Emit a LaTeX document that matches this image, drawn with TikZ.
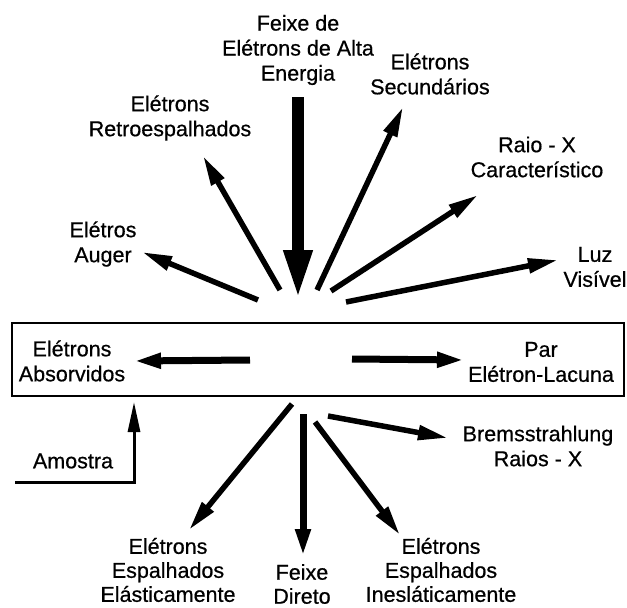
\documentclass[tikz,border=0pt]{standalone}
\usepackage{fontspec}
\setmainfont{Liberation Sans}[FakeBold=0.6]
\usetikzlibrary{arrows.meta}
\begin{document}
\begin{tikzpicture}[x=1pt,y=-1pt,
  lbl/.style={align=center,font=\fontsize{21.5}{25}\selectfont,inner sep=0pt},
  lblb/.style={align=center,font=\fontsize{21.5}{24}\selectfont,inner sep=0pt},
  ray/.style={line width=5.5pt,-{Triangle[length=30pt,width=14pt]}},
  flat/.style={line width=7pt,-{Triangle[length=28pt,width=14pt]}},
  beam/.style={line width=12pt,-{Triangle[length=50pt,width=26pt]}},
  thin/.style={line width=3pt,-{Triangle[length=30pt,width=12pt]}}]
\useasboundingbox (0,0) rectangle (627,608);
% labels
\node[lbl] (lbeam) at (298,50) {Feixe de\\Elétrons de Alta\\Energia};
\node[lbl] (lretro) at (170,118) {Elétrons\\Retroespalhados};
\node[lbl] (lsec) at (430,74) {Elétrons\\Secundários};
\node[lbl] (lrx) at (537,157) {Raio - X\\Característico};
\node[lbl] (laug) at (103,244) {Elétros\\Auger};
\node[lbl] (lluz) at (595,267) {Luz\\Visível};
\node[lbl] (labs) at (72,361) {Elétrons\\Absorvidos};
\node[lbl] (lpar) at (541,362) {Par\\Elétron-Lacuna};
\node[lbl] (lamo) at (73,461) {Amostra};
\node[lbl] (lbre) at (538,446) {Bremsstrahlung\\Raios - X};
\node[lblb] (lela) at (168,570) {Elétrons\\Espalhados\\Elásticamente};
\node[lblb] (ldir) at (302,584) {Feixe\\Direto};
\node[lblb] (line) at (441,570) {Elétrons\\Espalhados\\Inesláticamente};
% sample box
\node[draw,line width=2.2pt,minimum width=612pt,minimum height=73pt,inner sep=0pt] (box) at (318,359.5) {};
% coordinates
\coordinate (b0) at (298,97);   \coordinate (b1) at (298,300);
\coordinate (r0) at (280,290);  \coordinate (r1) at (203,156);
\coordinate (s0) at (317,290);  \coordinate (s1) at (403,107);
\coordinate (x0) at (331,291);  \coordinate (x1) at (478,195);
\coordinate (v0) at (346,302);  \coordinate (v1) at (558,260);
\coordinate (a0) at (258,300);  \coordinate (a1) at (142,252);
\coordinate (ab0) at (250,360); \coordinate (ab1) at (133,361);
\coordinate (p0) at (352,359);  \coordinate (p1) at (465,360);
\coordinate (m0) at (15,482);   \coordinate (m1) at (134,482); \coordinate (m2) at (134,402);
\coordinate (e0) at (292,404);  \coordinate (e1) at (189,530);
\coordinate (d0) at (303,414);  \coordinate (d1) at (303,557);
\coordinate (i0) at (315,422);  \coordinate (i1) at (400,535);
\coordinate (br0) at (328,416); \coordinate (br1) at (448,438);
% arrows
\draw[beam] (b0) -- (b1);
\draw[ray] (r0) -- (r1);
\draw[ray] (s0) -- (s1);
\draw[ray] (x0) -- (x1);
\draw[ray] (v0) -- (v1);
\draw[ray] (a0) -- (a1);
\draw[flat] (ab0) -- (ab1);
\draw[flat] (p0) -- (p1);
\draw[thin] (m0) -- (m1) -- (m2);
\draw[ray] (e0) -- (e1);
\draw[flat] (d0) -- (d1);
\draw[ray] (i0) -- (i1);
\draw[ray] (br0) -- (br1);
\end{tikzpicture}
\end{document}
